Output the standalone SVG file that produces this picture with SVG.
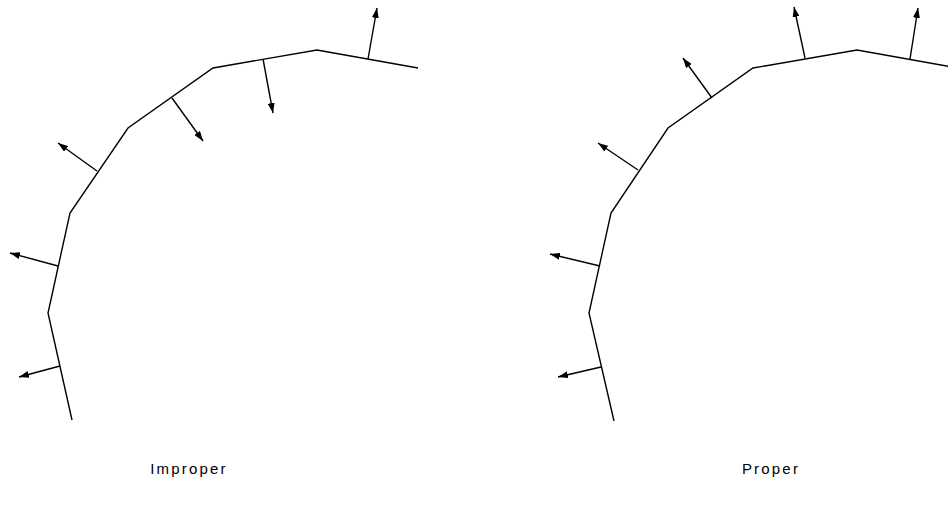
<svg xmlns="http://www.w3.org/2000/svg" width="948" height="509" viewBox="0 0 948 509">
<style>
.curve{fill:none;stroke:#000;stroke-width:1.4;stroke-linejoin:miter}
.nrm{stroke:#000;stroke-width:1.4;marker-end:url(#ah)}
.lbl{font-family:"Liberation Sans",Arial,sans-serif;font-size:15px;fill:#000;letter-spacing:2.2px}
</style>
<defs>
<marker id="ah" viewBox="0 0 10 7" refX="10" refY="3.5" markerWidth="10" markerHeight="7" markerUnits="userSpaceOnUse" orient="auto">
<path d="M0,0 L10,3.5 L0,7 Z" fill="#000"/>
</marker>
</defs>
<rect width="948" height="509" fill="#fff"/>
<g id="improper">
<polyline class="curve" points="418,68 317,50 213,68 128,128 70,213 48,313 72,420"/>
</g>
<g id="proper">
<polyline class="curve" points="958,68 857,50 753,68 668,128 611,213 589,313 614,421"/>
</g>
<g id="connectors">
<line class="nrm" x1="368" y1="59" x2="377" y2="8"/>
<line class="nrm" x1="263" y1="59" x2="273" y2="113"/>
<line class="nrm" x1="172" y1="98" x2="203" y2="141"/>
<line class="nrm" x1="97" y1="171" x2="58" y2="143"/>
<line class="nrm" x1="58" y1="266" x2="10" y2="253"/>
<line class="nrm" x1="60" y1="366" x2="19" y2="377"/>
<line class="nrm" x1="910" y1="59" x2="918" y2="8"/>
<line class="nrm" x1="805" y1="58" x2="794" y2="7"/>
<line class="nrm" x1="712" y1="98" x2="683" y2="58"/>
<line class="nrm" x1="638" y1="170" x2="598" y2="143"/>
<line class="nrm" x1="600" y1="266" x2="550" y2="254"/>
<line class="nrm" x1="601" y1="367" x2="558" y2="377"/>
</g>
<g id="labels">
<text class="lbl" x="189" y="474" text-anchor="middle">Improper</text>
<text class="lbl" x="771" y="474" text-anchor="middle">Proper</text>
</g>
</svg>
